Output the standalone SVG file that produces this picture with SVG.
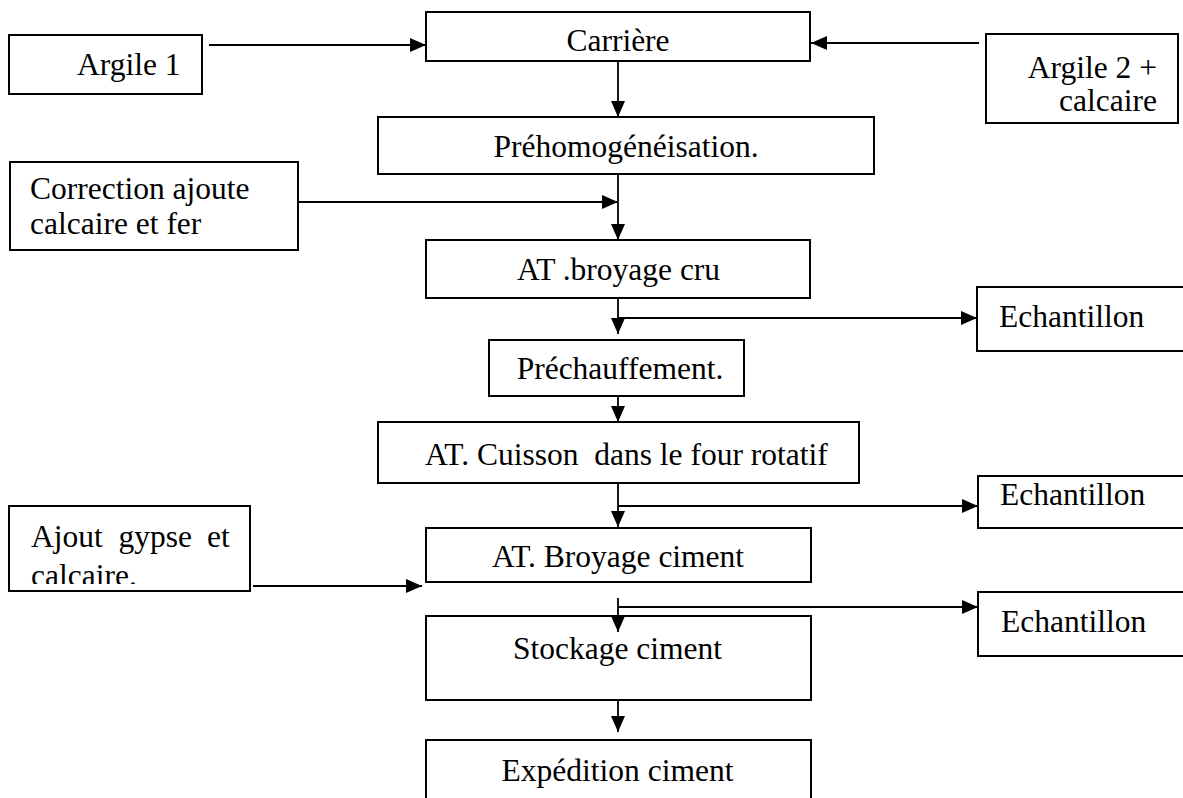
<svg xmlns="http://www.w3.org/2000/svg" width="1183" height="798" viewBox="0 0 1183 798">
<style>
.box{fill:#fff;stroke:#000;stroke-width:2}
.t{font-family:"Liberation Serif","Times New Roman",serif;font-size:31.5px;fill:#000}
.c{text-anchor:middle}
.r{text-anchor:end}
.ln{stroke:#000;stroke-width:1.8;fill:none}
.ar{marker-end:url(#ah)}
</style>
<defs>
<marker id="ah" markerUnits="userSpaceOnUse" markerWidth="16" markerHeight="14" refX="16" refY="7" orient="auto">
<path d="M0,0 L16,7 L0,14 z" fill="#000"/>
</marker>
<clipPath id="clipAjout"><rect x="9" y="506" width="241" height="78"/></clipPath>
</defs>
<rect width="1183" height="798" fill="#fff"/>
<g id="argile1">
<rect class="box" x="9" y="35" width="193" height="59"/>
<text class="t" x="77" y="75">Argile 1</text>
</g>
<g id="carriere">
<rect class="box" x="426" y="12" width="384" height="49"/>
<text class="t c" x="618" y="51">Carrière</text>
</g>
<g id="argile2">
<rect class="box" x="986" y="34" width="192" height="89"/>
<text class="t r" x="1157" y="78">Argile 2 +</text>
<text class="t r" x="1157" y="111">calcaire</text>
</g>
<g id="prehomo">
<rect class="box" x="378" y="117" width="496" height="57"/>
<text class="t c" x="626" y="157">Préhomogénéisation.</text>
</g>
<g id="correction">
<rect class="box" x="10" y="162" width="288" height="88"/>
<text class="t" x="30" y="199">Correction ajoute</text>
<text class="t" x="30" y="234">calcaire et fer</text>
</g>
<g id="broyagecru">
<rect class="box" x="426" y="240" width="384" height="58"/>
<text class="t c" x="618.5" y="280">AT .broyage cru</text>
</g>
<g id="echantillon1">
<rect class="box" x="977" y="287" width="220" height="64"/>
<text class="t" x="999" y="327">Echantillon</text>
</g>
<g id="prechauffement">
<rect class="box" x="489" y="340" width="255" height="56"/>
<text class="t c" x="620" y="379">Préchauffement.</text>
</g>
<g id="cuisson">
<rect class="box" x="378" y="422" width="481" height="61"/>
<text class="t" x="425" y="465" xml:space="preserve">AT. Cuisson  dans le four rotatif</text>
</g>
<g id="echantillon2">
<rect class="box" x="978" y="476" width="220" height="52"/>
<text class="t" x="1000" y="505">Echantillon</text>
</g>
<g id="ajout">
<rect class="box" x="9" y="506" width="241" height="85"/>
<text class="t" y="547"><tspan x="31">Ajout</tspan><tspan x="118.5">gypse</tspan><tspan x="207">et</tspan></text>
<text class="t" x="31" y="586" clip-path="url(#clipAjout)">calcaire.</text>
</g>
<g id="broyageciment">
<rect class="box" x="426" y="528" width="385" height="54"/>
<text class="t c" x="618" y="567">AT. Broyage ciment</text>
</g>
<g id="echantillon3">
<rect class="box" x="978" y="592" width="220" height="64"/>
<text class="t" x="1001" y="632">Echantillon</text>
</g>
<g id="stockage">
<rect class="box" x="426" y="616" width="385" height="84"/>
<text class="t c" x="617.5" y="659">Stockage ciment</text>
</g>
<g id="expedition">
<rect class="box" x="426" y="740" width="385" height="70"/>
<text class="t c" x="617.5" y="781">Expédition ciment</text>
</g>
<g id="connectors">
<line class="ln ar" x1="209" y1="45" x2="426" y2="45"/>
<line class="ln ar" x1="979" y1="43" x2="811" y2="43"/>
<line class="ln ar" x1="618" y1="61" x2="618" y2="117"/>
<line class="ln ar" x1="618" y1="174" x2="618" y2="240"/>
<line class="ln ar" x1="298" y1="202" x2="618" y2="202"/>
<line class="ln ar" x1="618" y1="298" x2="618" y2="334"/>
<line class="ln ar" x1="618" y1="318" x2="977" y2="318"/>
<line class="ln ar" x1="618" y1="396" x2="618" y2="422"/>
<line class="ln ar" x1="618" y1="483" x2="618" y2="527"/>
<line class="ln ar" x1="618" y1="506" x2="978" y2="506"/>
<line class="ln ar" x1="253" y1="586" x2="422" y2="586"/>
<line class="ln ar" x1="618" y1="598" x2="618" y2="632"/>
<line class="ln ar" x1="618" y1="607" x2="978" y2="607"/>
<line class="ln ar" x1="618" y1="700" x2="618" y2="732"/>
</g>
</svg>
